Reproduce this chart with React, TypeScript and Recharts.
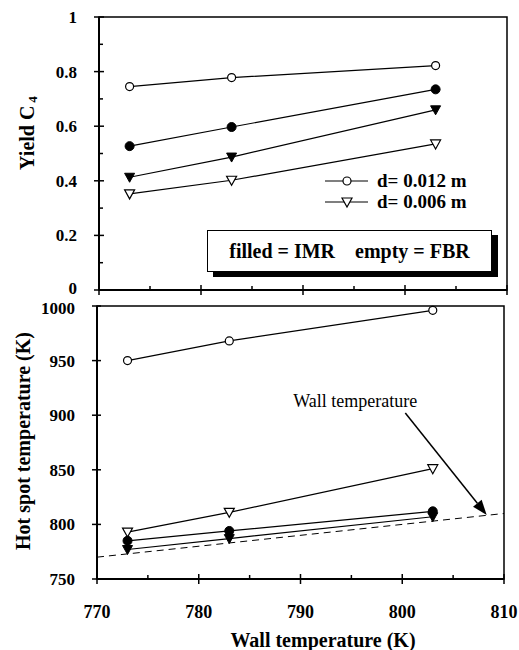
import React from 'react';
import { LineChart, Line, XAxis, YAxis, ReferenceArea, ReferenceLine } from 'recharts';

// ---- data ----
const wallTemps = [773, 783, 803];
const yieldFbrLarge = [0.745, 0.778, 0.822];
const yieldImrLarge = [0.527, 0.597, 0.735];
const yieldImrSmall = [0.413, 0.487, 0.66];
const yieldFbrSmall = [0.352, 0.402, 0.535];
const hotFbrLarge = [950, 968, 996];
const hotFbrSmall = [793, 811, 851];
const hotImrLarge = [785, 794, 812];
const hotImrSmall = [777, 787, 807];
const wallLineX = [770, 810];
const xTicks = [770, 775, 780, 785, 790, 795, 800, 805, 810];
const xMajor = [770, 780, 790, 800, 810];
const yieldTicks = [0, 0.1, 0.2, 0.3, 0.4, 0.5, 0.6, 0.7, 0.8, 0.9, 1];
const yieldMajor = [0, 0.2, 0.4, 0.6, 0.8, 1];
const hotTicks = [750, 800, 850, 900, 950, 1000];
const arrowFrom = { x: 800.3, y: 902 };
const arrowTo = { x: 808.3, y: 808.6 };

const yieldRows = wallTemps.map((t, i) => ({
  t,
  fbrL: yieldFbrLarge[i],
  imrL: yieldImrLarge[i],
  imrS: yieldImrSmall[i],
  fbrS: yieldFbrSmall[i],
}));
const hotRows = wallTemps.map((t, i) => ({
  t,
  fbrL: hotFbrLarge[i],
  fbrS: hotFbrSmall[i],
  imrL: hotImrLarge[i],
  imrS: hotImrSmall[i],
}));
const wallRows = wallLineX.map((t) => ({ t, wall: t }));

const FONT = 'Liberation Serif, DejaVu Serif, serif';

const OpenCircle = (p: any) => (
  <circle key={p.key} cx={p.cx} cy={p.cy} r={4} fill="#fff" stroke="#000" strokeWidth={1.2} />
);
const FilledCircle = (p: any) => (
  <circle key={p.key} cx={p.cx} cy={p.cy} r={4.5} fill="#000" stroke="#000" strokeWidth={1} />
);
const triPts = (cx: number, cy: number) =>
  `${cx - 5},${cy - 4} ${cx + 5},${cy - 4} ${cx},${cy + 5}`;
const OpenTri = (p: any) => (
  <polygon key={p.key} points={triPts(p.cx, p.cy)} fill="#fff" stroke="#000" strokeWidth={1.2} />
);
const FilledTri = (p: any) => (
  <polygon key={p.key} points={triPts(p.cx, p.cy)} fill="#000" stroke="#000" strokeWidth={1} />
);

const makeXTick = (showLabel: boolean) => (props: any) => {
  const { x, y, payload } = props;
  const v = payload.value;
  const major = xMajor.includes(v);
  return (
    <g>
      {major ? (
        <line x1={x} x2={x} y1={y - 5} y2={y + 5} stroke="#000" strokeWidth={1.5} />
      ) : (
        <line x1={x} x2={x} y1={y - 4} y2={y} stroke="#000" strokeWidth={1.5} />
      )}
      {showLabel && major && (
        <text x={x} y={y + 39} textAnchor="middle" style={{ fontFamily: FONT }} fontWeight="bold" fontSize={18} fill="#000">
          {v}
        </text>
      )}
    </g>
  );
};

const YieldTick = (props: any) => {
  const { x, y, payload } = props;
  const v = payload.value;
  const major = yieldMajor.some((m) => Math.abs(m - v) < 1e-9);
  return (
    <g>
      {major ? (
        <line x1={x - 5} x2={x + 5} y1={y} y2={y} stroke="#000" strokeWidth={1.5} />
      ) : (
        <line x1={x} x2={x + 4} y1={y} y2={y} stroke="#000" strokeWidth={1.5} />
      )}
      {major && (
        <text x={x - 22} y={y + (v === 0 ? 4 : 6)} textAnchor="end" style={{ fontFamily: FONT }} fontWeight="bold" fontSize={17} fill="#000">
          {String(v)}
        </text>
      )}
    </g>
  );
};

const HotTick = (props: any) => {
  const { x, y, payload } = props;
  return (
    <g>
      <line x1={x - 5} x2={x + 4} y1={y} y2={y} stroke="#000" strokeWidth={1.5} />
      <text x={x - 22} y={y + (payload.value === 1000 ? 8 : 6)} textAnchor="end" style={{ fontFamily: FONT }} fontWeight="bold" fontSize={17} fill="#000">
        {payload.value}
      </text>
    </g>
  );
};

const ArrowShape = (props: any) => {
  const { x1, y1, x2, y2 } = props;
  const dx = x2 - x1;
  const dy = y2 - y1;
  const len = Math.sqrt(dx * dx + dy * dy);
  const ux = dx / len;
  const uy = dy / len;
  const hl = 15;
  const hw = 5.5;
  const bx = x2 - ux * hl;
  const by = y2 - uy * hl;
  const pts = `${x2},${y2} ${bx - uy * hw},${by + ux * hw} ${bx + uy * hw},${by - ux * hw}`;
  return (
    <g>
      <text x={x1 - 50} y={y1 - 6} textAnchor="middle" style={{ fontFamily: FONT }} fontSize={18} fill="#000">
        Wall temperature
      </text>
      <line x1={x1} y1={y1} x2={bx} y2={by} stroke="#000" strokeWidth={1.5} />
      <polygon points={pts} fill="#000" />
    </g>
  );
};

const lineProps = {
  stroke: '#000',
  strokeWidth: 1.2,
  isAnimationActive: false,
  activeDot: false as any,
  type: 'linear' as const,
};

export default function App() {
  return (
    <div style={{ position: 'absolute', left: 0, top: 0, width: 519, height: 650, background: '#fff', fontFamily: FONT }}>
      {/* Top panel */}
      <div style={{ position: 'absolute', left: 0, top: 0 }}>
        <LineChart width={519} height={300} data={yieldRows} margin={{ top: 17, right: 12, left: 0, bottom: 0 }}>
          <XAxis
            dataKey="t"
            type="number"
            domain={[770, 810]}
            ticks={xTicks}
            interval={0}
            height={10}
            tickSize={0}
            tickMargin={0}
            tickLine={false}
            axisLine={{ stroke: '#000', strokeWidth: 2 }}
            tick={makeXTick(false)}
          />
          <YAxis
            type="number"
            domain={[0, 1]}
            ticks={yieldTicks}
            interval={0}
            width={99}
            tickSize={0}
            tickMargin={0}
            tickLine={false}
            axisLine={{ stroke: '#000', strokeWidth: 2 }}
            tick={YieldTick}
            label={{
              content: () => (
                <text
                  x={27}
                  y={133}
                  transform="rotate(-90, 27, 133)"
                  textAnchor="middle"
                  dominantBaseline="central"
                  style={{ fontFamily: FONT }}
                  fontWeight="bold"
                  fontSize={20}
                  fill="#000"
                >
                  Yield C<tspan dx={3} dy={5} fontSize={13}>4</tspan>
                </text>
              ),
            }}
          />
          <ReferenceArea x1={770} x2={810} y1={0} y2={1} fill="none" stroke="#000" strokeWidth={1.5} />
          <Line dataKey="fbrL" {...lineProps} dot={OpenCircle} />
          <Line dataKey="imrL" {...lineProps} dot={FilledCircle} />
          <Line dataKey="imrS" {...lineProps} dot={FilledTri} />
          <Line dataKey="fbrS" {...lineProps} dot={OpenTri} />
        </LineChart>
      </div>

      {/* Bottom panel */}
      <div style={{ position: 'absolute', left: 0, top: 290 }}>
        <LineChart width={519} height={360} data={hotRows} margin={{ top: 16, right: 15, left: 0, bottom: 0 }}>
          <XAxis
            dataKey="t"
            type="number"
            domain={[770, 810]}
            ticks={xTicks}
            interval={0}
            height={71}
            tickSize={0}
            tickMargin={0}
            tickLine={false}
            axisLine={{ stroke: '#000', strokeWidth: 2 }}
            tick={makeXTick(true)}
            label={{
              content: () => (
                <text x={323} y={357} textAnchor="middle" style={{ fontFamily: FONT }} fontWeight="bold" fontSize={20} fill="#000">
                  Wall temperature (K)
                </text>
              ),
            }}
          />
          <YAxis
            type="number"
            domain={[750, 1000]}
            ticks={hotTicks}
            interval={0}
            width={97}
            tickSize={0}
            tickMargin={0}
            tickLine={false}
            axisLine={{ stroke: '#000', strokeWidth: 2 }}
            tick={HotTick}
            label={{
              content: () => (
                <text
                  x={23}
                  y={151}
                  transform="rotate(-90, 23, 151)"
                  textAnchor="middle"
                  dominantBaseline="central"
                  style={{ fontFamily: FONT }}
                  fontWeight="bold"
                  fontSize={20}
                  fill="#000"
                >
                  Hot spot temperature (K)
                </text>
              ),
            }}
          />
          <ReferenceArea x1={770} x2={810} y1={750} y2={1000} fill="none" stroke="#000" strokeWidth={1.5} />
          <Line data={wallRows} dataKey="wall" stroke="#000" strokeWidth={1} strokeDasharray="7 5" dot={false} activeDot={false} isAnimationActive={false} />
          <Line dataKey="fbrL" {...lineProps} dot={OpenCircle} />
          <Line dataKey="fbrS" {...lineProps} dot={OpenTri} />
          <Line dataKey="imrL" {...lineProps} dot={FilledCircle} />
          <Line dataKey="imrS" {...lineProps} dot={FilledTri} />
          <ReferenceLine segment={[arrowFrom, arrowTo]} stroke="#000" shape={ArrowShape} ifOverflow="visible" />
        </LineChart>
      </div>

      {/* Legend */}
      <svg width={519} height={300} style={{ position: 'absolute', left: 0, top: 0, pointerEvents: 'none' }}>
        <line x1={325} x2={368} y1={181} y2={181} stroke="#000" strokeWidth={1.2} />
        <circle cx={347} cy={181} r={4} fill="#fff" stroke="#000" strokeWidth={1.2} />
        <text x={377} y={187} style={{ fontFamily: FONT }} fontWeight="bold" fontSize={19} fill="#000">d= 0.012 m</text>
        <line x1={325} x2={368} y1={202} y2={202} stroke="#000" strokeWidth={1.2} />
        <polygon points={triPts(347, 202)} fill="#fff" stroke="#000" strokeWidth={1.2} />
        <text x={377} y={208} style={{ fontFamily: FONT }} fontWeight="bold" fontSize={19} fill="#000">d= 0.006 m</text>
      </svg>

      {/* Annotation box */}
      <div
        style={{
          position: 'absolute',
          left: 207,
          top: 230,
          width: 283,
          height: 40,
          border: '1.5px solid #000',
          background: '#fff',
          boxShadow: '6px 5px 0 #000',
          fontFamily: FONT,
          fontWeight: 'bold',
          fontSize: 20,
          color: '#000',
          display: 'flex',
          alignItems: 'center',
          justifyContent: 'center',
          whiteSpace: 'pre',
          boxSizing: 'content-box',
        }}
      >
        {'filled = IMR    empty = FBR'}
      </div>
    </div>
  );
}
